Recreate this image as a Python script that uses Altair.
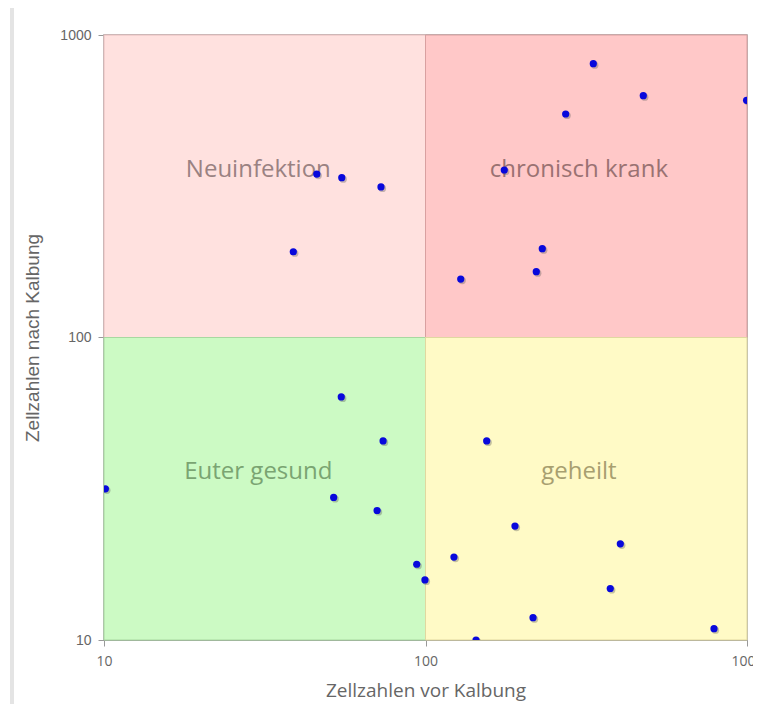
import altair as alt
import pandas as pd

# Scatter data: cell counts before / after calving
vor = [45.9, 54.9, 72.7, 38.8, 332.6, 475.8, 997, 272.9, 175.8, 230.8, 221.1, 128.7,
       54.7, 73.8, 10.1, 51.8, 70.7, 93.9, 99.6,
       155, 189.8, 403.6, 122.6, 375.6, 216, 789.6, 143.6]
nach = [347, 337.6, 314.5, 192.1, 803.7, 630, 608, 548, 357.9, 196.6, 165, 156,
        63.6, 45.5, 31.6, 29.6, 26.8, 17.8, 15.8,
        45.5, 23.8, 20.8, 18.8, 14.8, 11.85, 10.9, 10]

# Quadrants
q_names = ["Neuinfektion", "chronisch krank", "Euter gesund", "geheilt"]
q_x1 = [10, 100, 10, 100]
q_x2 = [100, 1000, 100, 1000]
q_y1 = [100, 100, 10, 10]
q_y2 = [1000, 1000, 100, 100]
q_fill = ["#FFE1DF", "#FFC8C8", "#CCFAC4", "#FFFAC6"]
q_stroke = ["#E8BDBD", "#D9A0A0", "#A8D8A0", "#E0D8A0"]
q_text = ["#9A8282", "#9A7272", "#7AA472", "#A89F70"]
q_lx = [30.2, 300, 30.2, 300]
q_ly = [358, 358, 35.8, 35.8]

x_ticks = [10, 100, 1000]
y_ticks = [10, 100, 1000]

pts = pd.DataFrame({"vor": vor, "nach": nach})
quads = pd.DataFrame({"name": q_names, "x1": q_x1, "x2": q_x2, "y1": q_y1, "y2": q_y2,
                      "fill": q_fill, "stroke": q_stroke, "tc": q_text,
                      "lx": q_lx, "ly": q_ly})

xscale = alt.Scale(type="log", domain=[10, 1000], nice=False)
yscale = alt.Scale(type="log", domain=[10, 1000], nice=False)

xaxis = alt.Axis(values=x_ticks, title="Zellzahlen vor Kalbung", grid=False,
                 format="d", labelFont="Open Sans", labelFontSize=14, labelColor="#666666",
                 titleFont="Open Sans", titleFontSize=19, titleFontWeight="normal",
                 titleColor="#666666", titlePadding=13, labelPadding=8,
                 tickSize=6, tickColor="#999999", domainColor="#999999",
                 labelFlush=False)
yaxis = alt.Axis(values=y_ticks, title="Zellzahlen nach Kalbung", grid=False,
                 format="d", labelFont="Liberation Sans", labelFontSize=14,
                 labelColor="#666666", titleFont="Liberation Sans", titleFontSize=19,
                 titleFontWeight="normal", titleColor="#666666", titlePadding=17,
                 labelPadding=7, tickSize=6, tickColor="#999999",
                 domainColor="#999999", labelFlush=False)

rects = alt.Chart(quads).mark_rect(strokeWidth=1).encode(
    x=alt.X("x1:Q", scale=xscale, axis=xaxis),
    x2="x2:Q",
    y=alt.Y("y1:Q", scale=yscale, axis=yaxis),
    y2="y2:Q",
    fill=alt.Fill("fill:N", scale=None),
    stroke=alt.Stroke("stroke:N", scale=None),
)

labels = alt.Chart(quads).mark_text(font="Open Sans", fontSize=24, align="center",
                                    baseline="middle").encode(
    x=alt.X("lx:Q", scale=xscale),
    y=alt.Y("ly:Q", scale=yscale),
    text="name:N",
    color=alt.Color("tc:N", scale=None),
)

shadow = alt.Chart(pts).mark_circle(size=52, color="#555555", opacity=0.35,
                                    xOffset=1.5, yOffset=1.5, clip=True).encode(
    x=alt.X("vor:Q", scale=xscale),
    y=alt.Y("nach:Q", scale=yscale),
)

points = alt.Chart(pts).mark_circle(size=52, color="#0808DC", opacity=1,
                                    clip=True).encode(
    x=alt.X("vor:Q", scale=xscale),
    y=alt.Y("nach:Q", scale=yscale),
)

page_line = alt.Chart(pts).mark_rule(color="#E4E4E4", strokeWidth=3).encode(
    x=alt.value(-92), y=alt.value(-40), y2=alt.value(700)
)

chart = alt.layer(page_line, rects, labels, shadow, points).properties(
    width=643, height=605,
    autosize=alt.AutoSizeParams(type="none"),
    padding={"left": 96, "top": 27, "right": 6, "bottom": 64},
    background="white",
).configure_view(stroke="#999999", strokeWidth=1.5)

chart.save("out.html", embed_options={"renderer": "svg", "actions": False})
